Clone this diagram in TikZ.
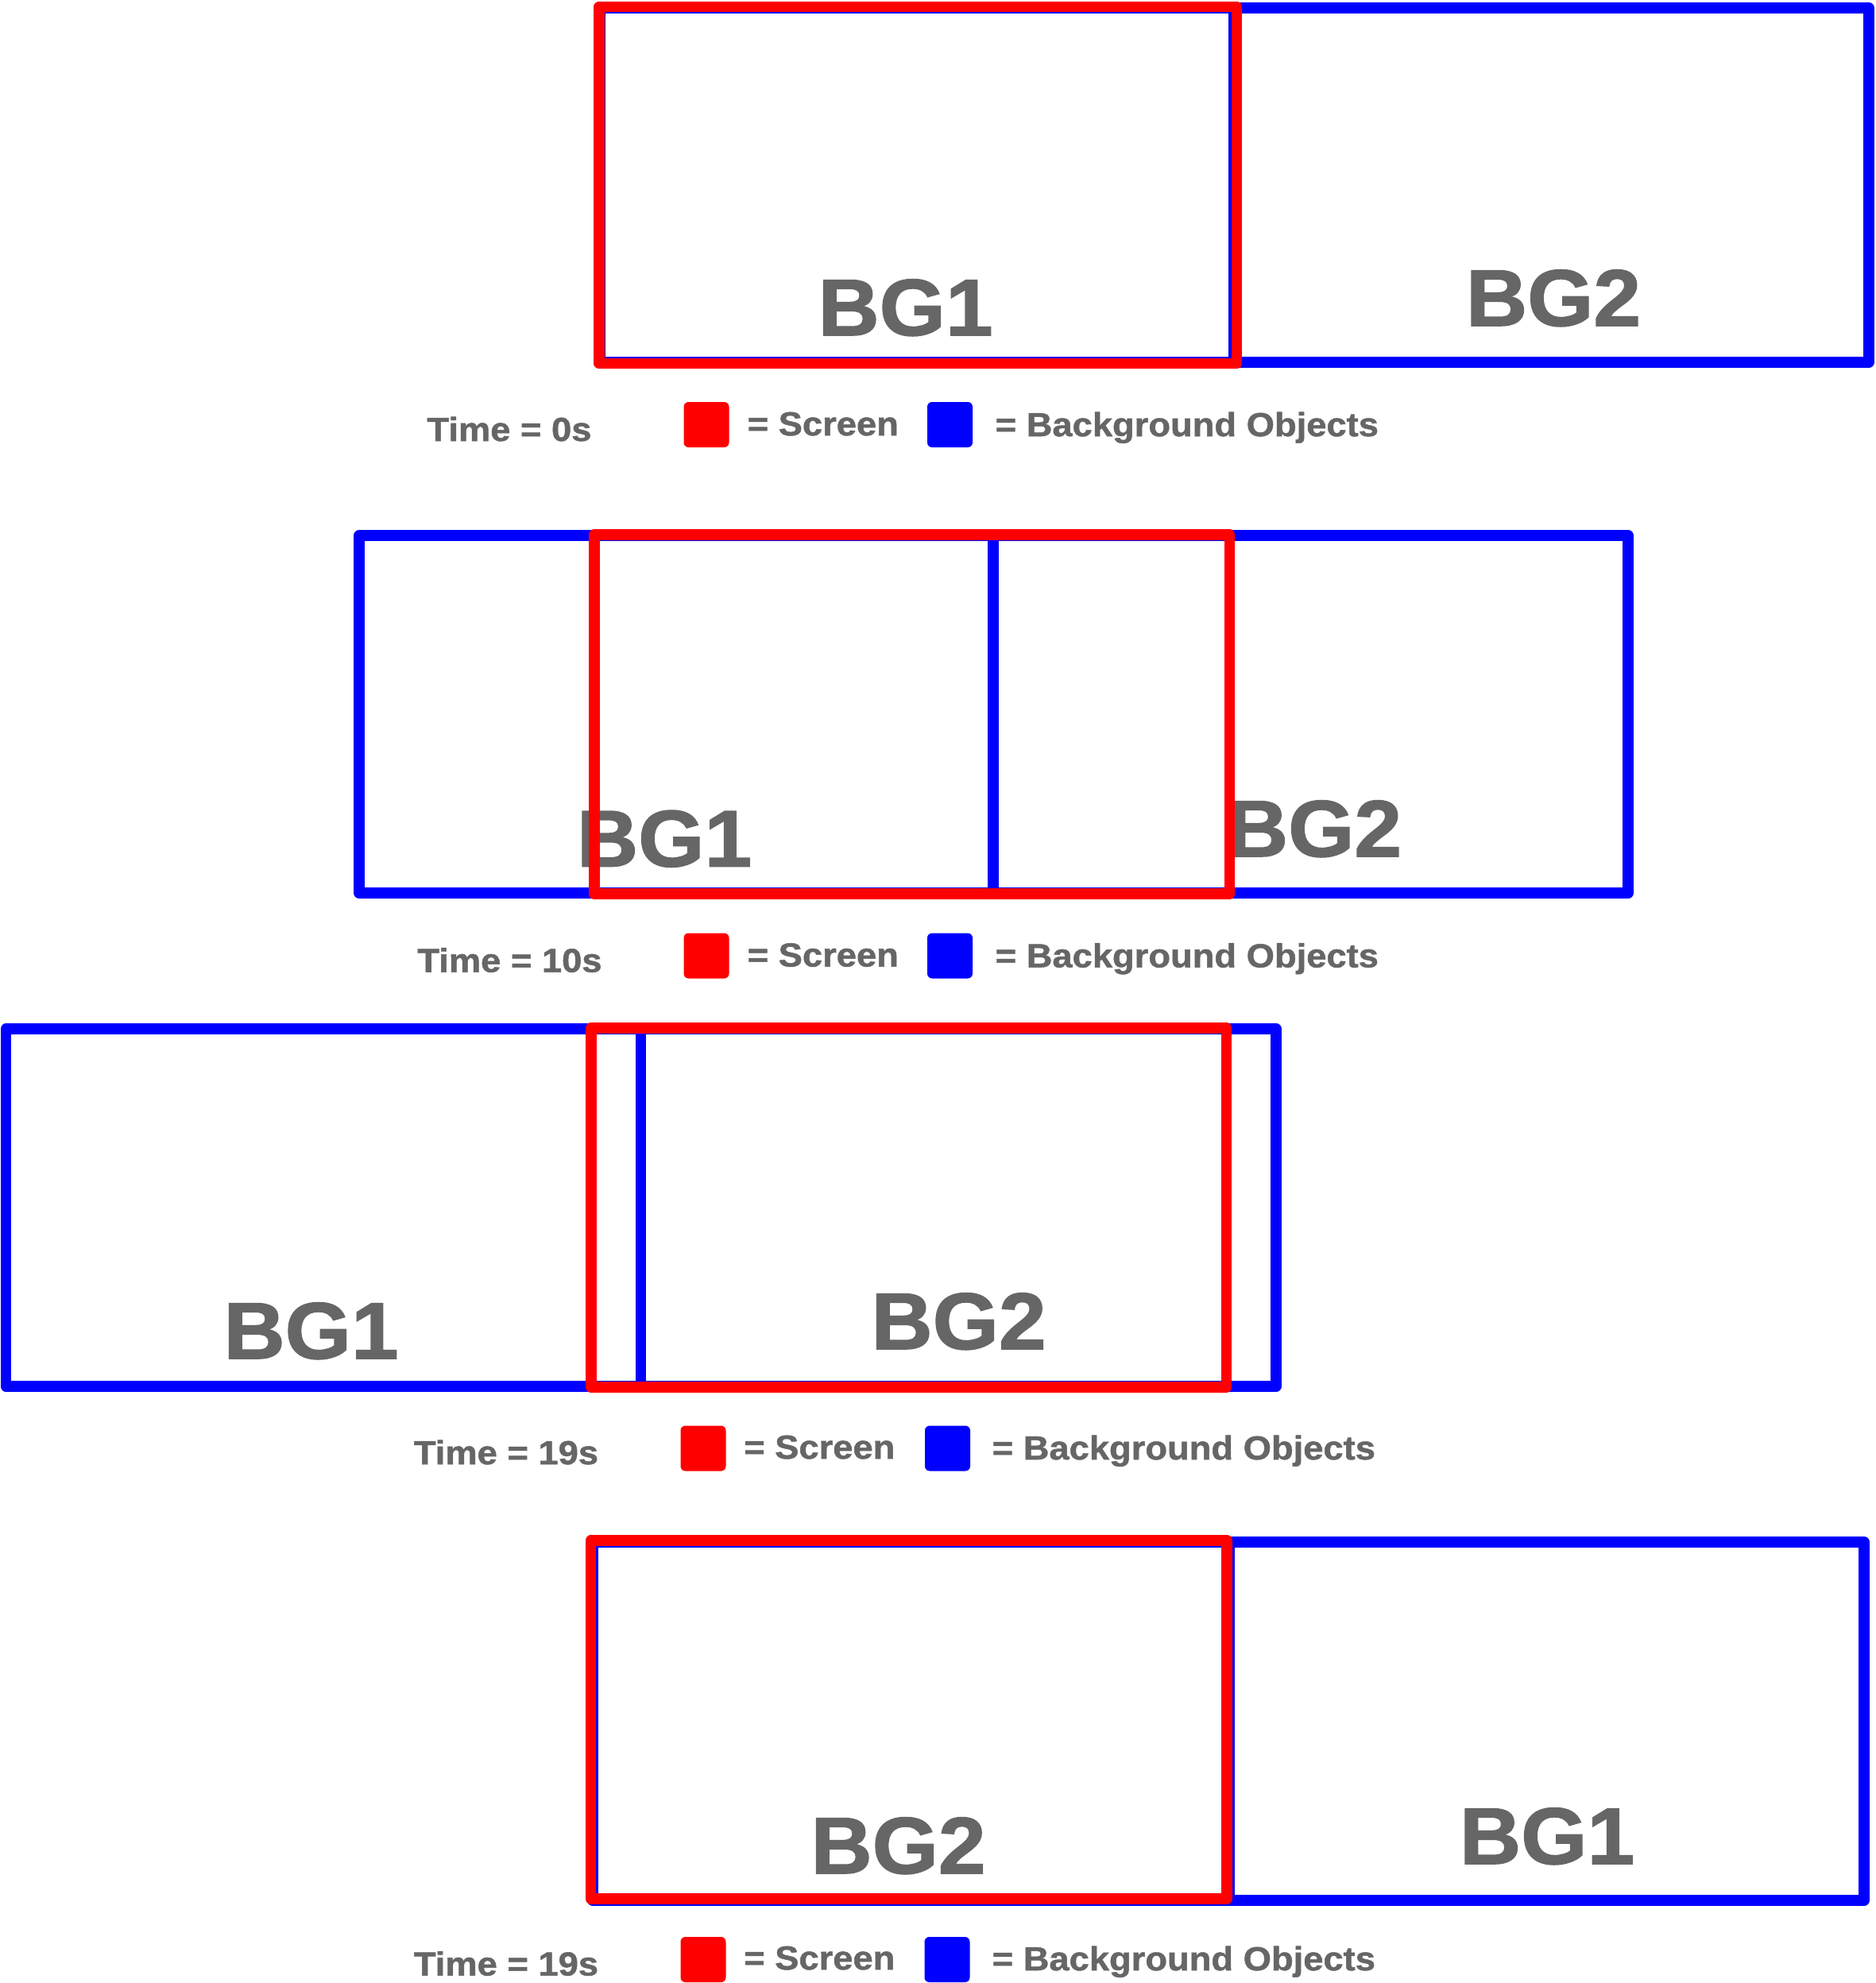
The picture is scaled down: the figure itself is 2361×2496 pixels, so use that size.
\documentclass[tikz,border=0pt]{standalone}
\usepackage{fontspec}
\setmainfont{Liberation Sans}
\newfontfamily\legfam{Liberation Sans}[FakeStretch=1.08,FakeBold=1.2]
\newfontfamily\bgfam{Liberation Sans}[FakeStretch=1.06,FakeBold=1.5]
\definecolor{scrred}{RGB}{255,0,0}
\definecolor{bgblue}{RGB}{0,0,255}
\definecolor{txtgray}{RGB}{102,102,102}
\newcommand{\bgfnt}{\bgfam\fontsize{28.74pt}{30pt}\selectfont\bfseries}
\newcommand{\legfnt}{\legfam\fontsize{11.94pt}{14pt}\selectfont\bfseries}
\tikzset{
  bgbox/.style={draw=bgblue, line width=1.35mm, line join=round},
  scrbox/.style={draw=scrred, line width=1.35mm, line join=round},
  bglabel/.style={anchor=base, inner sep=0pt, text=txtgray, font=\bgfnt},
  leg/.style={inner sep=0pt, text=txtgray, font=\legfnt},
  legw/.style={leg, anchor=base west},
  legc/.style={leg, anchor=base},
  swatch/.style={rounded corners=0.6mm},
}
\begin{document}
\begin{tikzpicture}[x=0.1mm,y=-0.1mm]
\useasboundingbox (0,0) rectangle (2361,2496);

% ---------- Panel 1 (Time = 0s)
\draw[bgbox] (755,10) rectangle (1553,456);
\draw[bgbox] (1553,10) rectangle (2352,456);
\node[bglabel] (p1a) at (1139.5,422) {BG1};
\node[bglabel] (p1b) at (1955,410) {BG2};
\draw[scrbox] (754,8.5) rectangle (1556.5,457.5);

\node[legc] (t1) at (641,555) {Time = 0s};
\fill[scrred, swatch] (860.5,506) rectangle (917.5,563);
\node[legw] (s1) at (940,548) {= Screen};
\fill[bgblue, swatch] (1167,506) rectangle (1224,563);
\node[legw] (b1) at (1252,549) {= Background Objects};

% ---------- Panel 2 (Time = 10s)
\draw[bgbox] (452,674) rectangle (1250,1124);
\draw[bgbox] (1250,674) rectangle (2049,1124);
\node[bglabel] (p2a) at (836,1090.5) {BG1};
\node[bglabel] (p2b) at (1654,1078) {BG2};
\draw[scrbox] (748,673) rectangle (1547.5,1125);

\node[legc] (t2) at (641.5,1223.5) {Time = 10s};
\fill[scrred, swatch] (860.5,1174.5) rectangle (917.5,1231.5);
\node[legw] (s2) at (940,1216.5) {= Screen};
\fill[bgblue, swatch] (1167,1174.5) rectangle (1224,1231.5);
\node[legw] (b2) at (1252,1217.5) {= Background Objects};

% ---------- Panel 3 (Time = 19s)
\draw[bgbox] (7.5,1295) rectangle (806.5,1745);
\draw[bgbox] (806.5,1295) rectangle (1606,1745);
\node[bglabel] (p3a) at (391.5,1710) {BG1};
\node[bglabel] (p3b) at (1206.5,1698) {BG2};
\draw[scrbox] (744,1294) rectangle (1543.5,1746);

\node[legc] (t3) at (637,1843) {Time = 19s};
\fill[scrred, swatch] (856.5,1794.5) rectangle (913.5,1851.5);
\node[legw] (s3) at (935.5,1836) {= Screen};
\fill[bgblue, swatch] (1164,1794.5) rectangle (1221,1851.5);
\node[legw] (b3) at (1248,1837) {= Background Objects};

% ---------- Panel 4 (Time = 19s, swapped)
\draw[bgbox] (746,1941) rectangle (1547,2392);
\draw[bgbox] (1547,1941) rectangle (2346,2392);
\node[bglabel] (p4a) at (1130.5,2358) {BG2};
\node[bglabel] (p4b) at (1947,2346) {BG1};
\draw[scrbox] (743.5,1939) rectangle (1544,2390);

\node[legc] (t4) at (637,2486.5) {Time = 19s};
\fill[scrred, swatch] (856.5,2438) rectangle (913.5,2495);
\node[legw] (s4) at (935.5,2479) {= Screen};
\fill[bgblue, swatch] (1163.5,2438) rectangle (1220.5,2495);
\node[legw] (b4) at (1248,2480) {= Background Objects};
\end{tikzpicture}
\end{document}
